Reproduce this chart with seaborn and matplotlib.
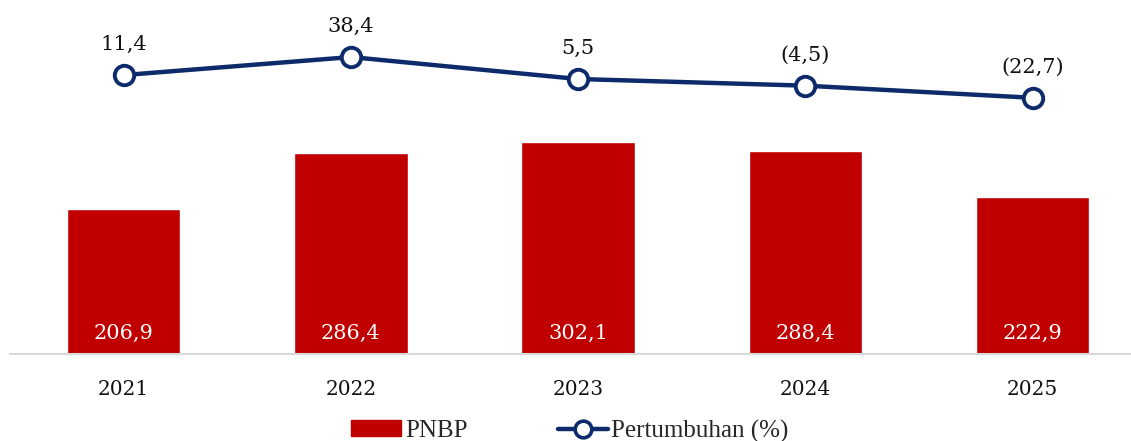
import matplotlib
matplotlib.use("Agg")
import matplotlib.pyplot as plt
import seaborn as sns
import pandas as pd
from matplotlib.patches import Patch
from matplotlib.lines import Line2D

# data
tahun = ["2021", "2022", "2023", "2024", "2025"]
pnbp = [206.9, 286.4, 302.1, 288.4, 222.9]
pertumbuhan = [11.4, 38.4, 5.5, -4.5, -22.7]

merah = "#C00000"
biru = "#0D2B6B"
font_angka = ["DejaVu Serif"]
font_legend = ["Liberation Serif", "DejaVu Serif"]

sns.set_theme(style="white")
plt.rcParams["font.family"] = font_angka

df = pd.DataFrame({"tahun": tahun, "pnbp": pnbp, "tumbuh": pertumbuhan})

fig = plt.figure(figsize=(11.31, 4.41), dpi=100)
ax = fig.add_axes([10 / 1131, 87 / 441, 1121 / 1131, 354 / 441])

sns.barplot(data=df, x="tahun", y="pnbp", color=merah, width=0.5,
            saturation=1, ax=ax)
ax.set_ylim(0, 504)
ax.set_xlim(-0.5, -0.5 + 1121 / 227.25)
ax.set_xlabel("")
ax.set_ylabel("")
ax.set_yticks([])
for s in ["top", "right", "left"]:
    ax.spines[s].set_visible(False)
ax.spines["bottom"].set_color("#D9D9D9")
ax.spines["bottom"].set_linewidth(1.5)
ax.tick_params(axis="x", length=0, pad=19, labelsize=14.5, labelcolor="#111111")

# label di dalam batang
for i, v in enumerate(pnbp):
    ax.annotate(f"{v:.1f}".replace(".", ","), (i, 0), xytext=(0, 15),
                textcoords="offset points", ha="center", va="center",
                color="white", fontsize=15)

# garis pertumbuhan di sumbu kedua
ax2 = ax.twinx()
sns.lineplot(x=list(range(len(tahun))), y=pertumbuhan, ax=ax2, color=biru,
             linewidth=3.2, marker="o", markersize=14, markerfacecolor="white",
             markeredgecolor=biru, markeredgewidth=2.8)
ax2.set_ylim(-407, 124)
ax2.set_yticks([])
ax2.set_ylabel("")
for s in ax2.spines.values():
    s.set_visible(False)

for i, v in enumerate(pertumbuhan):
    teks = f"{abs(v):.1f}".replace(".", ",")
    if v < 0:
        teks = f"({teks})"
    ax2.annotate(teks, (i, v), xytext=(0, 22), textcoords="offset points",
                 ha="center", va="center", color="#111111", fontsize=15)

handles = [
    Patch(facecolor=merah, edgecolor=merah),
    Line2D([0], [0], color=biru, linewidth=3.2, marker="o", markersize=12,
           markerfacecolor="white", markeredgecolor=biru, markeredgewidth=2.6),
]
fig.legend(handles, ["PNBP", "Pertumbuhan (%)"], loc="center",
           bbox_to_anchor=(570 / 1131, 10 / 441), ncol=2, frameon=False,
           prop={"family": font_legend, "size": 18}, handlelength=2.0,
           handleheight=0.6, handletextpad=0.15, columnspacing=3.6)

fig.savefig("out.png", dpi=100)
